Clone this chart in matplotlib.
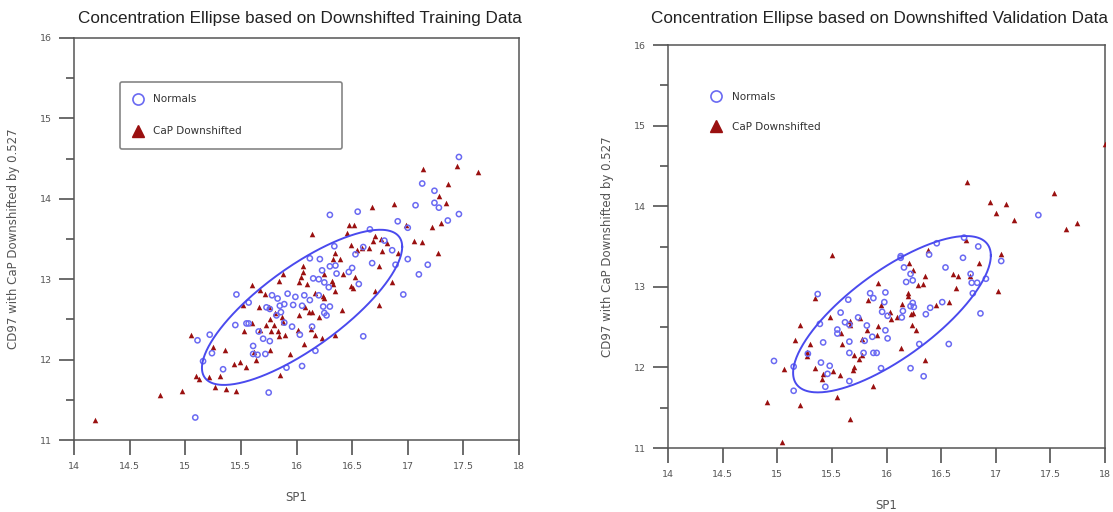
import numpy as np
import matplotlib.pyplot as plt
from matplotlib.lines import Line2D

# ---- training data (SP1, CD97 downshifted) ----
train_norm_x = [17.46, 17.13, 17.24, 17.24, 17.28, 17.07, 17.46, 17.36, 16.55, 16.30,
                16.91, 17.00, 16.66, 16.60, 16.53, 16.34, 16.79, 16.86, 17.00, 17.18,
                17.10, 16.89, 16.96, 16.68, 16.56, 16.50, 16.21, 16.12, 16.30, 16.35,
                16.23, 16.36, 16.47, 16.15, 16.20, 16.25, 16.29, 15.46, 15.57, 15.78,
                15.83, 15.92, 15.99, 16.07, 16.20, 15.85, 15.89, 15.97, 16.05, 16.12,
                16.24, 16.30, 16.25, 16.27, 15.45, 15.55, 15.57, 15.73, 15.76, 15.82,
                15.86, 15.66, 15.70, 15.76, 15.96, 16.03, 16.14, 15.11, 15.22, 15.24,
                15.16, 15.61, 15.61, 15.65, 15.72, 15.34, 15.91, 16.05, 16.17, 16.60,
                15.75, 15.09, 15.89]
train_norm_y = [14.52, 14.19, 14.10, 13.95, 13.89, 13.92, 13.81, 13.73, 13.84, 13.80,
                13.72, 13.64, 13.62, 13.40, 13.31, 13.41, 13.48, 13.36, 13.25, 13.18,
                13.06, 13.18, 12.81, 13.20, 12.94, 13.14, 13.25, 13.26, 13.16, 13.17,
                13.11, 13.07, 13.09, 13.01, 13.00, 12.96, 12.90, 12.81, 12.71, 12.80,
                12.76, 12.82, 12.78, 12.80, 12.80, 12.67, 12.69, 12.68, 12.67, 12.74,
                12.66, 12.66, 12.58, 12.55, 12.43, 12.45, 12.45, 12.65, 12.63, 12.55,
                12.59, 12.35, 12.26, 12.23, 12.41, 12.31, 12.41, 12.24, 12.31, 12.08,
                11.98, 12.17, 12.07, 12.06, 12.07, 11.88, 11.90, 11.92, 12.11, 12.29,
                11.59, 11.28, 12.46]

train_cap_x = [17.14, 17.44, 17.63, 17.36, 17.28, 17.34, 16.88, 16.68, 16.98, 17.30,
               17.22, 17.27, 17.06, 17.13, 16.47, 16.52, 16.45, 16.14, 16.71, 16.76,
               16.81, 16.69, 16.49, 16.54, 16.65, 16.59, 16.35, 16.33, 16.39, 16.77,
               16.91, 16.74, 16.86, 16.74, 16.71, 16.06, 16.06, 15.88, 15.84, 16.02,
               16.09, 16.04, 16.32, 16.33, 16.35, 16.53, 16.49, 16.51, 16.42, 16.25,
               16.17, 16.24, 16.25, 15.60, 15.67, 15.72, 15.52, 15.66, 15.75, 15.81,
               15.76, 15.87, 15.88, 16.02, 16.08, 16.11, 16.14, 16.20, 16.41, 15.53,
               15.60, 15.67, 15.73, 15.80, 15.77, 15.83, 15.84, 15.90, 16.01, 16.13,
               16.17, 16.23, 16.35, 16.07, 15.76, 15.94, 15.05, 15.25, 15.36, 15.62,
               15.64, 15.44, 15.49, 15.55, 15.10, 15.12, 15.21, 15.31, 15.27, 15.37,
               15.46, 15.85, 14.97, 14.77, 14.19]
train_cap_y = [14.37, 14.41, 14.33, 14.18, 14.03, 13.95, 13.93, 13.90, 13.67, 13.70,
               13.65, 13.32, 13.48, 13.46, 13.67, 13.67, 13.58, 13.56, 13.54, 13.50,
               13.45, 13.48, 13.43, 13.36, 13.39, 13.39, 13.32, 13.25, 13.25, 13.35,
               13.33, 13.16, 12.97, 12.68, 12.85, 13.16, 13.09, 13.06, 12.98, 12.96,
               12.94, 13.03, 12.98, 12.94, 12.85, 13.03, 12.91, 12.89, 13.07, 13.07,
               12.83, 12.79, 12.77, 12.93, 12.87, 12.82, 12.68, 12.65, 12.66, 12.58,
               12.51, 12.53, 12.47, 12.55, 12.66, 12.59, 12.59, 12.53, 12.62, 12.35,
               12.45, 12.37, 12.43, 12.43, 12.36, 12.36, 12.29, 12.30, 12.37, 12.38,
               12.31, 12.27, 12.31, 12.20, 12.12, 12.07, 12.31, 12.16, 12.12, 12.09,
               12.00, 11.94, 11.97, 11.91, 11.79, 11.76, 11.78, 11.80, 11.66, 11.64,
               11.61, 11.81, 11.61, 11.56, 11.25]

# ---- validation data ----
val_norm_x = [17.39, 16.71, 16.46, 16.13, 16.13, 16.39, 16.16, 16.22, 16.24, 16.18,
              16.54, 16.70, 16.84, 17.05, 16.77, 16.78, 16.91, 16.83, 16.79, 16.86,
              16.51, 16.40, 16.36, 16.24, 16.22, 16.25, 15.99, 15.88, 15.85, 15.98,
              15.96, 16.01, 15.99, 16.01, 16.14, 16.15, 15.82, 15.74, 15.62, 15.66,
              15.55, 15.55, 15.80, 15.87, 15.66, 15.58, 15.65, 15.37, 15.39, 15.42,
              15.28, 15.66, 15.79, 15.88, 15.91, 16.30, 16.57, 15.95, 16.22, 16.34,
              15.66, 15.44, 15.48, 15.46, 15.40, 15.15, 14.97, 15.15]
val_norm_y = [13.89, 13.61, 13.54, 13.38, 13.36, 13.40, 13.24, 13.16, 13.08, 13.06,
              13.24, 13.36, 13.50, 13.32, 13.16, 13.05, 13.10, 13.05, 12.92, 12.67,
              12.81, 12.74, 12.66, 12.80, 12.76, 12.75, 12.93, 12.86, 12.92, 12.81,
              12.69, 12.64, 12.46, 12.36, 12.62, 12.70, 12.52, 12.62, 12.56, 12.53,
              12.47, 12.42, 12.33, 12.38, 12.32, 12.68, 12.84, 12.91, 12.54, 12.31,
              12.17, 12.18, 12.18, 12.18, 12.18, 12.29, 12.29, 11.99, 11.99, 11.89,
              11.83, 11.76, 12.02, 11.92, 12.06, 12.01, 12.08, 11.71]

val_cap_x = [16.74, 17.53, 16.95, 17.09, 17.00, 17.17, 17.64, 17.74, 16.73, 17.05,
             16.85, 16.38, 16.21, 16.24, 16.35, 16.61, 16.65, 16.76, 16.64, 17.02,
             16.57, 16.45, 16.33, 16.29, 16.20, 16.20, 15.92, 15.83, 15.95, 16.14,
             16.24, 16.22, 16.03, 16.04, 16.10, 16.23, 16.27, 15.76, 15.67, 15.67,
             15.58, 15.92, 15.82, 15.91, 15.78, 15.59, 15.70, 15.78, 15.75, 15.70,
             15.69, 15.57, 15.51, 15.42, 15.41, 15.35, 15.30, 15.27, 15.27, 15.16,
             15.21, 15.35, 15.50, 15.48, 16.13, 16.35, 15.88, 15.55, 15.21, 14.91,
             15.06, 15.67, 15.04, 18.00]
val_cap_y = [14.30, 14.17, 14.05, 14.03, 13.91, 13.83, 13.72, 13.79, 13.58, 13.41,
             13.30, 13.46, 13.30, 13.21, 13.14, 13.16, 13.14, 13.13, 12.98, 12.95,
             12.81, 12.78, 13.03, 13.02, 12.92, 12.88, 13.05, 12.84, 12.78, 12.79,
             12.67, 12.66, 12.69, 12.60, 12.63, 12.52, 12.46, 12.61, 12.58, 12.52,
             12.43, 12.51, 12.47, 12.40, 12.35, 12.29, 12.16, 12.16, 12.10, 12.01,
             11.97, 11.90, 11.96, 11.92, 11.85, 11.99, 12.29, 12.19, 12.14, 12.34,
             12.53, 12.86, 13.39, 12.63, 12.24, 12.09, 11.77, 11.63, 11.53, 11.57,
             11.98, 11.36, 11.07, 14.77]

# concentration ellipse: centre, half extents in x / y, correlation
train_ell = (16.05, 12.65, 0.90, 0.965, 0.78)
val_ell = (16.05, 12.66, 0.905, 0.97, 0.75)

titles = ["Concentration Ellipse based on Downshifted Training Data",
          "Concentration Ellipse based on Downshifted Validation Data"]
xticks = [14, 14.5, 15, 15.5, 16, 16.5, 17, 17.5, 18]
xticklabels = ["14", "14.5", "15", "15.5", "16", "16.5", "17", "17.5", "18"]
yticks = [11, 12, 13, 14, 15, 16]

BLUE = "#6a6af2"
ELL = "#4a4aee"
RED = "#9a1010"
GRAY = "#555555"

fig = plt.figure(figsize=(11.13, 5.12), dpi=100)
ax1 = fig.add_axes([0.0665, 0.1406, 0.3998, 0.7852])
ax2 = fig.add_axes([0.6002, 0.125, 0.3926, 0.7871])

panels = [
    (ax1, train_norm_x, train_norm_y, train_cap_x, train_cap_y, train_ell, titles[0], 10.5, 0.508, (0.103, 0.891), True),
    (ax2, val_norm_x, val_norm_y, val_cap_x, val_cap_y, val_ell, titles[1], 16, 0.483, (0.07, 0.915), False),
]

for ax, nx, ny, cx_, cy_, ell, title, pad, tx, leg_pos, framed in panels:
    ax.scatter(cx_, cy_, marker="^", s=16, color=RED, linewidths=0, zorder=3)
    ax.scatter(nx, ny, marker="o", s=14, facecolors="none", edgecolors=BLUE,
               linewidths=1.1, zorder=4)

    ex, ey, ax_, ay_, rho = ell
    t = np.linspace(0, 2 * np.pi, 300)
    ax.plot(ex + ax_ * np.cos(t),
            ey + ay_ * (rho * np.cos(t) + np.sqrt(1 - rho ** 2) * np.sin(t)),
            color=ELL, lw=1.4, zorder=5)

    ax.set_xlim(14, 18)
    ax.set_ylim(11, 16)
    ax.set_xticks(xticks)
    ax.set_xticklabels(xticklabels)
    ax.set_yticks(yticks)
    ax.set_yticks([11.5, 12.5, 13.5, 14.5, 15.5], minor=True)
    ax.tick_params(axis="both", which="major", direction="out", length=11, width=1.1,
                   color="#444444", labelsize=6.8, labelcolor=GRAY, pad=5)
    ax.tick_params(axis="y", which="minor", direction="out", length=6, width=1.1,
                   color="#444444")
    for sp in ax.spines.values():
        sp.set_color("#555555")
        sp.set_linewidth(1.1)

    ax.set_title(title, fontsize=12.3, family="Liberation Sans", color="#222222", pad=pad, x=tx)
    ax.set_xlabel("SP1", fontsize=8.5, color=GRAY, labelpad=14)
    ax.set_ylabel("CD97 with CaP Downshifted by 0.527", fontsize=8.5, color=GRAY, labelpad=14)

    handles = [
        Line2D([], [], marker="o", ls="none", markersize=8, markerfacecolor="none",
               markeredgecolor=BLUE, markeredgewidth=1.2, label="Normals"),
        Line2D([], [], marker="^", ls="none", markersize=9, color=RED, label="CaP Downshifted"),
    ]
    leg = ax.legend(handles=handles, loc="upper left", bbox_to_anchor=(leg_pos[0], leg_pos[1], 0.5, 0),
                    mode="expand", fontsize=7.5, labelspacing=1.9 if not framed else 2.1,
                    borderpad=1.2, handlelength=1.0, handletextpad=1.0, borderaxespad=0,
                    frameon=framed, fancybox=True)
    if framed:
        leg.get_frame().set_edgecolor("#666666")
        leg.get_frame().set_linewidth(1.2)
    for txt in leg.get_texts():
        txt.set_color("#333333")

fig.savefig("out.png", dpi=100)
